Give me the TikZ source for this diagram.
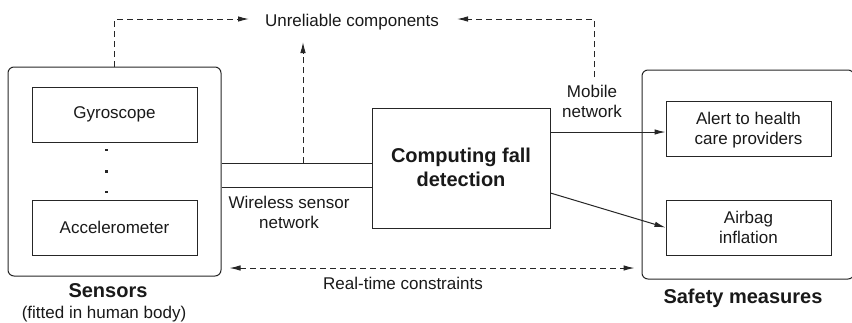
\documentclass[tikz,border=0pt]{standalone}
\usepackage{fontspec}
\setmainfont{Liberation Sans}
\usetikzlibrary{arrows.meta,calc}

\tikzset{
  ink/.style={draw=black!85},
  txt/.style={font=\fontsize{17}{20}\selectfont, text=black!90, inner sep=0pt},
  boldtxt/.style={font=\fontsize{20}{24}\selectfont\bfseries, text=black!90, inner sep=0pt},
  group/.style={ink, rounded corners=6pt, inner sep=0pt},
  unit/.style={ink, inner sep=0pt, align=center, font=\fontsize{17}{20}\selectfont, text=black!90},
  tip/.style={-{Latex[length=11pt,width=5.5pt]}},
  twotip/.style={{Latex[length=11pt,width=5.5pt]}-{Latex[length=11pt,width=5.5pt]}},
  dash6/.style={dash pattern=on 6pt off 4pt},
  dotmark/.style={fill=black!85, inner sep=0pt, minimum size=2.6pt},
}

\begin{document}
\begin{tikzpicture}[x=1pt, y=-1pt, line width=1pt]
\useasboundingbox (0,0) rectangle (852,322);

% Sensor group
\node[group, minimum width=213pt, minimum height=209pt] (sens) at (114.5,171.5) {};
\node[unit, minimum width=165pt, minimum height=55pt] (gyro) at (114.5,114.5) {Gyroscope};
\node[unit, minimum width=165pt, minimum height=55pt] (acc) at (114.5,227.5) {Accelerometer};
\node[dotmark] (d1) at (106.5,150) {};
\node[dotmark] (d2) at (106.5,171.5) {};
\node[dotmark] (d3) at (106.5,192) {};
\node[boldtxt, anchor=base] (senslbl) at (108,297) {Sensors};
\node[txt, anchor=base] (senssub) at (104,318) {(fitted in human body)};

% Fall detection (multi-line labels are anchored at their last baseline)
\node[unit, minimum width=178pt, minimum height=120pt] (comp) at (461,168) {};
\node[boldtxt, anchor=base, align=center] (complbl) at (461,186)
  {Computing fall\\detection};

% Safety group
\node[group, minimum width=212pt, minimum height=209pt] (safe) at (748,174.5) {};
\node[unit, minimum width=165pt, minimum height=55pt] (alert) at (748.5,128.5) {};
\node[txt, anchor=base, align=center] (alertlbl) at (748.5,144)
  {Alert to health\\care providers};
\node[unit, minimum width=165pt, minimum height=55pt] (airbag) at (748.5,227.5) {};
\node[txt, anchor=base, align=center] (airbaglbl) at (748.5,243)
  {Airbag\\inflation};
\node[boldtxt, anchor=base] (safelbl) at (743,303) {Safety measures};

% Wireless sensor network band
\coordinate (wa) at (221,163);
\coordinate (wb) at (221,187);
\draw[ink] (sens.east |- wa) -- (comp.west |- wa);
\draw[ink] (sens.east |- wb) -- (comp.west |- wb);
\node[txt, anchor=base, align=center] (wsn) at (289,228) {Wireless sensor\\network};

% Unreliable components
\node[txt, anchor=base] (unrel) at (352,26) {Unreliable components};
\coordinate (corl) at (114.5,19);
\coordinate (corr) at (594,19);
\coordinate (ltip) at (249,19);
\coordinate (rtip) at (457,19);
\coordinate (wup) at (303,163);
\coordinate (uptip) at (303,42);
\draw[ink, dash6, tip] (sens.north) -- (corl) -- (ltip);
\draw[ink, dash6, tip] (wup) -- (uptip);

% Mobile network
\node[txt, anchor=base, align=center] (mob) at (592,117) {Mobile\\network};
\coordinate (mobtop) at (594,77);
\draw[ink, dash6, tip] (mobtop) -- (corr) -- (rtip);

% Outputs of fall detection
\coordinate (o1) at (550,132);
\coordinate (o2) at (550,193);
\draw[ink, tip] (comp.east |- o1) -- (alert.west |- o1);
\draw[ink, tip] (comp.east |- o2) -- (airbag.west);

% Real-time constraints
\coordinate (rt) at (0,268);
\draw[ink, dash6, twotip, shorten <=8pt, shorten >=7pt] (sens.east |- rt) -- (safe.west |- rt);
\node[txt, anchor=base] (rtlbl) at (403,289) {Real-time constraints};
\end{tikzpicture}
\end{document}
